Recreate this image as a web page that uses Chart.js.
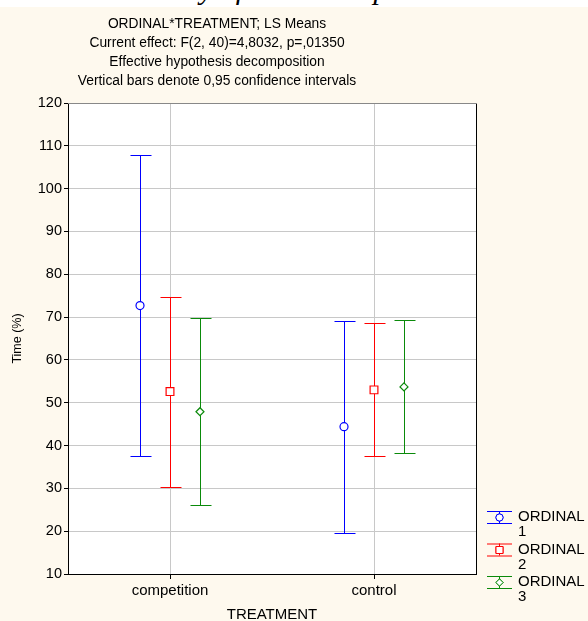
<!DOCTYPE html>
<html>
<head>
<meta charset="utf-8">
<script src="https://cdn.jsdelivr.net/npm/chart.js@4.4.1/dist/chart.umd.min.js"></script>
<style>
  html, body { margin: 0; padding: 0; background: #fef9ee; }
  #wrap { position: relative; width: 588px; height: 621px; }
  #strip { position: absolute; left: 0; top: 0; width: 588px; height: 7px; background: #fff; overflow: hidden; }
  #strip span { position: absolute; left: 150px; top: -28px; font: italic 30px "Liberation Serif", serif; color: #000; white-space: nowrap; }
</style>
</head>
<body>
<div id="wrap">
  <canvas id="c" width="588" height="621"></canvas>
  <div id="strip"><span>study of relative repetition rate</span></div>
</div>
<script>
// LS means and 0.95 CI
const CATEGORIES = ["competition", "control"];
const SERIES = ["ORDINAL\n1", "ORDINAL\n2", "ORDINAL\n3"];
const MEANS_1 = [72.7, 44.4], LOWER_1 = [37.6, 19.6], UPPER_1 = [107.8, 69.2];
const MEANS_2 = [52.6, 53.0], LOWER_2 = [30.4, 37.5], UPPER_2 = [74.6, 68.7];
const MEANS_3 = [47.9, 53.7], LOWER_3 = [26.0, 38.2], UPPER_3 = [69.9, 69.3];
const Y_TICKS = [10, 20, 30, 40, 50, 60, 70, 80, 90, 100, 110, 120];
const TITLE_LINES = [
  "ORDINAL*TREATMENT; LS Means",
  "Current effect: F(2, 40)=4,8032, p=,01350",
  "Effective hypothesis decomposition",
  "Vertical bars denote 0,95 confidence intervals"
];

const COLORS = ["#0000ff", "#ff0000", "#0a8a0a"];
const STYLES = ["circle", "rect", "rectRot"];
const RADII = [4, 5.5, 4];
const SHIFT = [-0.147, 0, 0.147];
const FONT = "'Liberation Sans', Arial, sans-serif";

function ds(i, means, lo, hi) {
  return {
    label: SERIES[i],
    data: means.map((v, k) => ({ x: k + SHIFT[i], y: v })),
    errLow: lo, errHigh: hi,
    showLine: false,
    borderColor: COLORS[i], backgroundColor: "#fff",
    pointStyle: STYLES[i], pointRadius: RADII[i], pointBorderWidth: 1.2,
    pointHoverRadius: RADII[i]
  };
}

// white plot area + frame + title block
const frame = {
  id: "frame",
  beforeDraw(chart) {
    const { ctx, chartArea: a } = chart;
    ctx.save();
    ctx.fillStyle = "#fff";
    ctx.fillRect(a.left, a.top, a.right - a.left, a.bottom - a.top);
    ctx.restore();
  },
  afterDraw(chart) {
    const { ctx, chartArea: a } = chart;
    ctx.save();
    ctx.lineWidth = 1;
    ctx.strokeStyle = "#000";
    ctx.beginPath();
    ctx.moveTo(a.right + 0.5, a.top); ctx.lineTo(a.right + 0.5, a.bottom + 1);
    ctx.stroke();
    ctx.strokeStyle = "#888";
    ctx.beginPath();
    ctx.moveTo(a.left, a.top + 0.5); ctx.lineTo(a.right + 1, a.top + 0.5);
    ctx.stroke();
    ctx.fillStyle = "#000";
    ctx.font = "13.8px " + FONT;
    ctx.textAlign = "center"; ctx.textBaseline = "middle";
    TITLE_LINES.forEach((t, i) => ctx.fillText(t, 217, 24 + i * 19));
    ctx.restore();
  }
};

// confidence interval whiskers
const whiskers = {
  id: "whiskers",
  beforeDatasetsDraw(chart) {
    const { ctx } = chart, y = chart.scales.y;
    ctx.save();
    ctx.lineWidth = 1;
    chart.data.datasets.forEach((d, i) => {
      const meta = chart.getDatasetMeta(i);
      ctx.strokeStyle = d.borderColor;
      meta.data.forEach((pt, k) => {
        const x = Math.round(pt.x) + 0.5;
        const yt = Math.round(y.getPixelForValue(d.errHigh[k])) + 0.5;
        const yb = Math.round(y.getPixelForValue(d.errLow[k])) + 0.5;
        ctx.beginPath();
        ctx.moveTo(x, yt); ctx.lineTo(x, yb);
        ctx.moveTo(x - 10, yt); ctx.lineTo(x + 11, yt);
        ctx.moveTo(x - 10, yb); ctx.lineTo(x + 11, yb);
        ctx.stroke();
      });
    });
    ctx.restore();
  }
};

// legend at bottom right
const sideLegend = {
  id: "sideLegend",
  afterDraw(chart) {
    const { ctx } = chart;
    ctx.save();
    chart.data.datasets.forEach((d, i) => {
      const y0 = 511 + i * 32.5, cx = 499.5;
      ctx.strokeStyle = d.borderColor; ctx.lineWidth = 1;
      ctx.beginPath();
      ctx.moveTo(487, y0 + 0.5); ctx.lineTo(512, y0 + 0.5);
      ctx.moveTo(487, y0 + 12.5); ctx.lineTo(512, y0 + 12.5);
      ctx.moveTo(cx, y0); ctx.lineTo(cx, y0 + 12);
      ctx.stroke();
      ctx.fillStyle = "#fff";
      Chart.helpers.drawPoint(ctx, { pointStyle: d.pointStyle, radius: d.pointRadius * 0.9, borderWidth: 1 }, cx, y0 + 6.5);
      ctx.fill(); ctx.stroke();
      ctx.fillStyle = "#000";
      ctx.font = "15px " + FONT;
      ctx.textAlign = "left"; ctx.textBaseline = "middle";
      d.label.split("\n").forEach((t, j) => ctx.fillText(t, 518, y0 + 6 + j * 15));
    });
    ctx.restore();
  }
};

new Chart(document.getElementById("c"), {
  type: "line",
  data: {
    datasets: [
      ds(0, MEANS_1, LOWER_1, UPPER_1),
      ds(1, MEANS_2, LOWER_2, UPPER_2),
      ds(2, MEANS_3, LOWER_3, UPPER_3)
    ]
  },
  options: {
    responsive: false, animation: false,
    layout: { padding: { left: 0, right: 112, top: 103, bottom: 0 } },
    plugins: { legend: { display: false }, tooltip: { enabled: false }, title: { display: false } },
    scales: {
      x: {
        type: "linear", min: -0.5, max: 1.5,
        afterBuildTicks: s => { s.ticks = CATEGORIES.map((_, i) => ({ value: i })); },
        afterFit: s => { s.height = 47; },
        grid: { color: "#c8c8c8", tickColor: "#000", tickLength: 5 },
        border: { color: "#000" },
        ticks: { color: "#000", font: { family: FONT, size: 15 }, padding: 3, maxRotation: 0,
                 callback: v => CATEGORIES[v] },
        title: { display: true, text: "TREATMENT", color: "#000", font: { family: FONT, size: 15 }, padding: { top: 0, bottom: -3 } }
      },
      y: {
        min: 10, max: 120,
        afterBuildTicks: s => { s.ticks = Y_TICKS.map(v => ({ value: v })); },
        afterFit: s => { s.width = 68; },
        grid: { color: "#c8c8c8", tickColor: "#000", tickLength: 4 },
        border: { color: "#000" },
        ticks: { color: "#000", font: { family: FONT, size: 14.5 }, padding: 2 },
        title: { display: true, text: "Time (%)", color: "#000", font: { family: FONT, size: 12.5 }, padding: { top: 10 } }
      }
    }
  },
  plugins: [frame, whiskers, sideLegend]
});
</script>
</body>
</html>
